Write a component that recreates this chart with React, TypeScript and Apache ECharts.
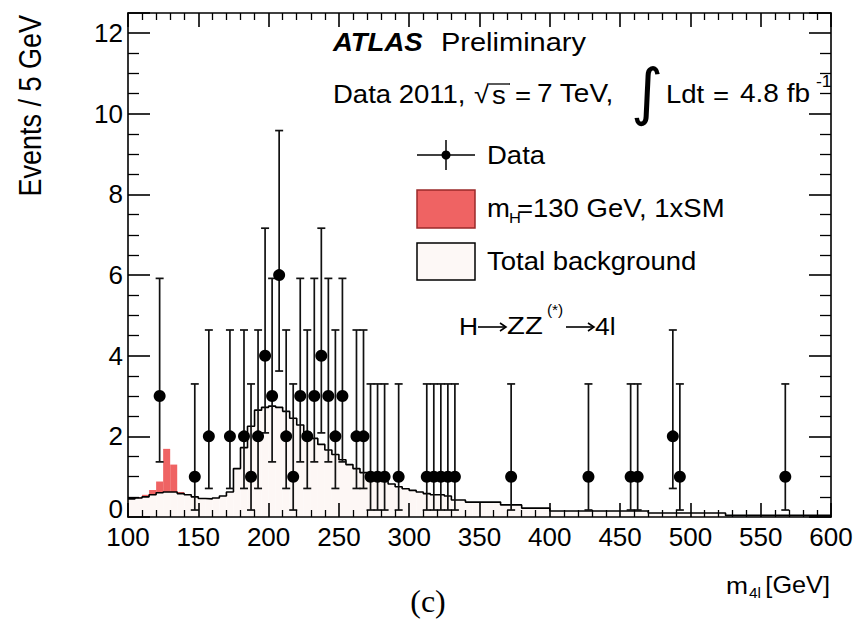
import React, { useEffect, useRef } from "react";
import * as echarts from "echarts";

// ---- data ----
const BIN_START = 100;
const BIN_WIDTH = 5;
// Total background per 5 GeV bin (lower edges 100, 105, ..., 595)
const bgValues = [
  0.45, 0.47, 0.5, 0.55, 0.6, 0.62, 0.62, 0.58, 0.55, 0.5,
  0.46, 0.45, 0.47, 0.52, 0.62, 1.2, 1.72, 2.25, 2.65, 2.72,
  2.75, 2.72, 2.62, 2.45, 2.28, 2.1, 1.95, 1.8, 1.66, 1.55,
  1.42, 1.3, 1.2, 1.1, 1.02, 0.95, 0.88, 0.82, 0.75, 0.7,
  0.66, 0.62, 0.58, 0.55, 0.55, 0.52, 0.42, 0.42, 0.37, 0.37,
  0.37, 0.37, 0.37, 0.3, 0.3, 0.3, 0.22, 0.22, 0.22, 0.22,
  0.15, 0.15, 0.15, 0.15, 0.15, 0.15, 0.15, 0.15, 0.15, 0.15,
  0.15, 0.15, 0.15, 0.15, 0.1, 0.1, 0.1, 0.1, 0.1, 0.1,
  0.1, 0.1, 0.1, 0.1, 0.1, 0.04, 0.04, 0.04, 0.04, 0.04,
  0.04, 0.04, 0.04, 0.04, 0.04, 0.04, 0.04, 0.04, 0.04, 0.04,
];
// Signal mH = 130 GeV (bin lower edges and heights)
const sigEdges = [105, 110, 115, 120, 125, 130, 135];
const sigValues = [0.02, 0.05, 0.12, 0.28, 1.07, 0.68, 0.04];
// Data points (bin centres and counts)
const dataMass = [
  122.5, 147.5, 157.5, 172.5, 182.5, 187.5, 192.5, 197.5, 202.5, 207.5,
  212.5, 217.5, 222.5, 227.5, 232.5, 237.5, 242.5, 247.5, 252.5, 262.5,
  267.5, 272.5, 277.5, 282.5, 292.5, 312.5, 317.5, 322.5, 327.5, 332.5,
  372.5, 427.5, 457.5, 462.5, 487.5, 492.5, 567.5,
];
const dataCount = [
  3, 1, 2, 2, 2, 1, 2, 4, 3, 6,
  2, 1, 3, 2, 3, 4, 3, 2, 3, 2,
  2, 1, 1, 1, 1, 1, 1, 1, 1, 1,
  1, 1, 1, 1, 2, 1, 1,
];
// Poisson (Garwood) 68% intervals per count
const poissonLow: Record<number, number> = { 1: 0.173, 2: 0.708, 3: 1.367, 4: 2.086, 6: 3.62 };
const poissonHigh: Record<number, number> = { 1: 3.3, 2: 4.638, 3: 5.918, 4: 7.163, 6: 9.584 };
const xTicks = { min: 100, max: 600, interval: 50 };
const yTicks = { min: 0, max: 12.5, interval: 2 };

const FONT = '"Liberation Sans", Arial, Helvetica, sans-serif';

export default function App() {
  const ref = useRef<HTMLDivElement>(null);
  useEffect(() => {
    if (!ref.current) return;
    const chart = echarts.init(ref.current, null, { renderer: "svg" });

    const edges = bgValues.map((_, i) => BIN_START + i * BIN_WIDTH);
    const bgRects = bgValues.map((v, i) => [edges[i], edges[i] + BIN_WIDTH, 0, v]);
    const sigRects = sigValues.map((v, i) => {
      const idx = edges.indexOf(sigEdges[i]);
      const base = bgValues[idx];
      return [sigEdges[i], sigEdges[i] + BIN_WIDTH, base, base + v];
    });
    const outline: number[][] = edges.map((e, i) => [e, bgValues[i]]);
    outline.push([edges[edges.length - 1] + BIN_WIDTH, bgValues[bgValues.length - 1]]);
    const points = dataMass.map((m, i) => [m, dataCount[i]]);
    const errs = dataMass.map((m, i) => [m, poissonLow[dataCount[i]], poissonHigh[dataCount[i]]]);

    const rectRender = (fill: string) => (params: any, api: any) => {
      const p0 = api.coord([api.value(0), api.value(3)]);
      const p1 = api.coord([api.value(1), api.value(2)]);
      return {
        type: "rect",
        shape: { x: p0[0], y: p0[1], width: p1[0] - p0[0], height: p1[1] - p0[1] },
        style: { fill, stroke: null },
      };
    };

    const axisCommon = (pos: string, labels: boolean, isX: boolean) => ({
      type: "value",
      position: pos,
      ...(isX ? xTicks : yTicks),
      z: 10,
      axisLine: { show: true, onZero: false, lineStyle: { color: "#000", width: 1.6 } },
      axisTick: { show: true, inside: true, length: isX ? 14 : 22, lineStyle: { color: "#000", width: 1.6 } },
      minorTick: { show: true, splitNumber: isX ? 5 : 4, length: isX ? 7 : 11, lineStyle: { color: "#000", width: 1.3 } },
      splitLine: { show: false },
      axisLabel: labels
        ? {
            show: true,
            fontSize: 26,
            fontFamily: FONT,
            color: "#000",
            margin: isX ? 7 : 5,
            showMaxLabel: isX ? true : false,
            formatter: (v: number) =>
              isX ? String(v) : v === 0 ? "{z|0}" : v % 2 === 0 ? String(v) : "",
            rich: { z: { fontSize: 26, fontFamily: FONT, color: "#000", padding: [0, 0, 17, 0] } },
          }
        : { show: false },
    });

    const T = (text: string, x: number, y: number, size: number, extra: any = {}, sx = 1.1) => ({
      type: "text",
      x,
      y,
      scaleX: sx,
      z: 100,
      style: {
        text,
        fontSize: size,
        fontFamily: FONT,
        fill: "#000",
        verticalAlign: "middle",
        align: "left",
        ...extra,
      },
    });
    const arrow = (x1: number, x2: number, y: number) => ({
      type: "group",
      z: 100,
      children: [
        { type: "line", z: 100, shape: { x1, y1: y, x2, y2: y }, style: { stroke: "#000", lineWidth: 1.6 } },
        {
          type: "polyline",
          z: 100,
          shape: { points: [[x2 - 6, y - 4], [x2, y], [x2 - 6, y + 4]] },
          style: { stroke: "#000", lineWidth: 1.6, fill: null },
        },
      ],
    });

    const option: any = {
      animation: false,
      backgroundColor: "#fff",
      grid: { left: 128, right: 28, top: 13, bottom: 108 },
      xAxis: [axisCommon("bottom", true, true), axisCommon("top", false, true)],
      yAxis: [axisCommon("left", true, false), axisCommon("right", false, false)],
      series: [
        {
          type: "custom",
          name: "bg",
          renderItem: rectRender("#fdf7f5"),
          data: bgRects,
          encode: { x: [0, 1], y: [2, 3] },
          z: 1,
        },
        {
          type: "custom",
          name: "sig",
          renderItem: rectRender("#ef6363"),
          data: sigRects,
          encode: { x: [0, 1], y: [2, 3] },
          z: 2,
        },
        {
          type: "line",
          name: "bgline",
          step: "end",
          data: outline,
          symbol: "none",
          lineStyle: { color: "#000", width: 1.6 },
          z: 3,
        },
        {
          type: "custom",
          name: "err",
          renderItem: (params: any, api: any) => {
            const x = api.value(0);
            const lo = api.coord([x, api.value(1)]);
            const hi = api.coord([x, api.value(2)]);
            const c = 4;
            const st = { stroke: "#111", lineWidth: 1.7 };
            return {
              type: "group",
              children: [
                { type: "line", shape: { x1: lo[0], y1: lo[1], x2: hi[0], y2: hi[1] }, style: st },
                { type: "line", shape: { x1: hi[0] - c, y1: hi[1], x2: hi[0] + c, y2: hi[1] }, style: st },
                { type: "line", shape: { x1: lo[0] - c, y1: lo[1], x2: lo[0] + c, y2: lo[1] }, style: st },
              ],
            };
          },
          data: errs,
          encode: { x: 0, y: [1, 2] },
          z: 4,
        },
        {
          type: "scatter",
          name: "Data",
          data: points,
          symbolSize: 12,
          itemStyle: { color: "#000", opacity: 1 },
          z: 5,
        },
      ],
      graphic: {
        elements: [
          // y-axis title
          {
            type: "text",
            x: 30,
            y: 15,
            rotation: Math.PI / 2,
            scaleY: 1.15,
            z: 100,
            style: { text: "Events / 5 GeV", fontSize: 27, fontFamily: FONT, fill: "#000", align: "right", verticalAlign: "middle" },
          },
          // x-axis title
          T("m", 726, 585, 24),
          T("4l", 749, 593, 14),
          T("[GeV]", 830, 585, 23, { align: "right" }),
          // caption
          { type: "text", x: 428, y: 601, z: 100, style: { text: "(c)", fontSize: 32, fontFamily: '"Liberation Serif", serif', fill: "#000", align: "center", verticalAlign: "middle" } },
          // ATLAS label
          T("ATLAS", 333, 42, 25, { fontWeight: "bold", fontStyle: "italic" }),
          T("Preliminary", 441, 42, 25, {}, 1.16),
          T("Data 2011,", 333, 94, 25),
          T("\u221A", 474, 94, 25),
          { type: "line", z: 100, shape: { x1: 489, y1: 84, x2: 510, y2: 84 }, style: { stroke: "#000", lineWidth: 1.3 } },
          T("s", 492, 95, 25),
          T("=", 515, 95, 25),
          T("7 TeV,", 537, 94, 25, {}, 1.12),
          { type: "text", x: 647, y: 91, z: 100, style: { text: "\u222B", fontSize: 62, fontFamily: '"DejaVu Sans", sans-serif', fill: "#000", align: "center", verticalAlign: "middle" } },
          T("Ldt", 666, 94, 25),
          T("=", 713, 95, 25),
          T("4.8 fb", 740, 94, 25, {}, 1.12),
          T("-1", 816, 82, 16),
          // legend
          { type: "line", z: 100, shape: { x1: 417, y1: 155, x2: 475, y2: 155 }, style: { stroke: "#000", lineWidth: 1.5 } },
          { type: "line", z: 100, shape: { x1: 446, y1: 140, x2: 446, y2: 170 }, style: { stroke: "#000", lineWidth: 1.5 } },
          { type: "circle", z: 100, shape: { cx: 446, cy: 155, r: 4.5 }, style: { fill: "#000" } },
          T("Data", 487, 155, 25),
          { type: "rect", z: 100, shape: { x: 417, y: 190, width: 58, height: 38 }, style: { fill: "#ef6363", stroke: "#9a2a2a", lineWidth: 1.5 } },
          T("m", 487, 208, 25),
          T("H", 509, 218, 15),
          T("=130 GeV, 1xSM", 517, 208, 25),
          { type: "rect", z: 100, shape: { x: 417, y: 243, width: 58, height: 37 }, style: { fill: "#fdf8f6", stroke: "#000", lineWidth: 1.5 } },
          T("Total background", 487, 261, 25),
          // process label
          T("H", 459, 326, 24),
          arrow(478, 506, 327),
          T("ZZ", 507, 326, 24, {}, 1.22),
          T("(*)", 547, 310, 14),
          arrow(566, 594, 327),
          T("4l", 595, 326, 24),
        ],
      },
    };
    chart.setOption(option);
    return () => chart.dispose();
  }, []);
  return (
    <div
      ref={ref}
      style={{ position: "fixed", left: 0, top: 0, width: 859, height: 625, background: "#fff" }}
    />
  );
}
